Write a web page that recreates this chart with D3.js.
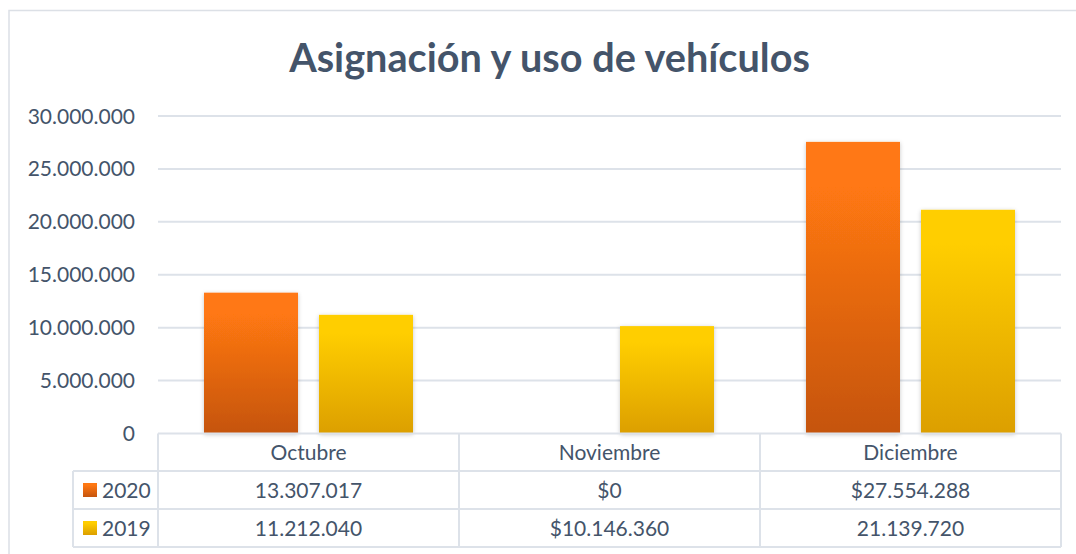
<!DOCTYPE html>
<html>
<head>
<meta charset="utf-8">
<script src="https://cdn.jsdelivr.net/npm/d3@7"></script>
<style>
  html, body { margin: 0; padding: 0; background: #ffffff; }
  svg { display: block; }
  text { font-family: Lato, "Liberation Sans", sans-serif; fill: #44546A; }
</style>
</head>
<body>
<svg id="chart" width="1076" height="554"></svg>
<script>
// ---- data ----
const title = "Asignación y uso de vehículos";
const categories = ["Octubre", "Noviembre", "Diciembre"];
const seriesNames = ["2020", "2019"];
const values2020 = [13307017, 0, 27554288];
const values2019 = [11212040, 10146360, 21139720];
const labels2020 = ["13.307.017", "$0", "$27.554.288"];
const labels2019 = ["11.212.040", "$10.146.360", "21.139.720"];
const yTicks = [0, 5000000, 10000000, 15000000, 20000000, 25000000, 30000000];

const seriesValues = [values2020, values2019];
const seriesLabels = [labels2020, labels2019];

// ---- layout ----
const svg = d3.select("#chart");
const plotLeft = 158, plotRight = 1061, plotTop = 116, plotBottom = 433.5;
const tableLeft = 73;
const rowEdges = [433.5, 471, 509, 547];
const gridColor = "#DDE2E9";
const fs = 21;

const defs = svg.append("defs");
const gradSpecs = [
  { id: "g2020", top: "#FF7812", bottom: "#C5540E" },
  { id: "g2019", top: "#FFCE00", bottom: "#DC9F00" }
];
gradSpecs.forEach(g => {
  const lg = defs.append("linearGradient").attr("id", g.id)
    .attr("x1", 0).attr("y1", 0).attr("x2", 0).attr("y2", 1);
  lg.append("stop").attr("offset", "0%").attr("stop-color", g.top);
  lg.append("stop").attr("offset", "15%").attr("stop-color", g.top);
  lg.append("stop").attr("offset", "100%").attr("stop-color", g.bottom);
});
const f = defs.append("filter").attr("id", "shadow")
  .attr("x", "-20%").attr("y", "-20%").attr("width", "140%").attr("height", "140%");
f.append("feDropShadow").attr("dx", 0).attr("dy", 1).attr("stdDeviation", 2)
  .attr("flood-color", "#000").attr("flood-opacity", 0.22);

// outer border
svg.append("rect").attr("x", 9).attr("y", 10.5).attr("width", 1080).attr("height", 560)
  .attr("fill", "#fff").attr("stroke", "#DCE0E6").attr("stroke-width", 1.5);

// title
const t = svg.append("text").attr("x", 549.5).attr("y", 72)
  .attr("text-anchor", "middle").attr("font-weight", "bold")
  .attr("font-size", 36).style("fill", "#44546A").text(title);
const tw = t.node().getComputedTextLength();
t.attr("font-size", 36 * 521 / tw);

// scales
const x0 = d3.scaleBand().domain(categories).range([plotLeft, plotRight]).padding(0);
const groupW = 209;
const x1 = d3.scaleBand().domain(seriesNames).range([0, groupW]).paddingInner(21 / 115).paddingOuter(0);
const y = d3.scaleLinear().domain([0, 30000000]).range([plotBottom, plotTop]);

const fmt = d3.formatLocale({ decimal: ",", thousands: ".", grouping: [3], currency: ["$", ""] }).format(",d");

// gridlines
svg.append("g").selectAll("line").data(yTicks.filter(d => d > 0)).join("line")
  .attr("x1", plotLeft).attr("x2", plotRight)
  .attr("y1", d => y(d)).attr("y2", d => y(d))
  .attr("stroke", gridColor).attr("stroke-width", 2);

// y axis labels
svg.append("g").selectAll("text").data(yTicks).join("text")
  .attr("x", 135).attr("y", d => y(d)).attr("dy", "0.36em")
  .attr("text-anchor", "end").attr("font-size", fs)
  .text(d => fmt(d));

// bars
const groups = svg.append("g").selectAll("g").data(categories).join("g")
  .attr("transform", d => `translate(${x0(d) + (x0.bandwidth() - groupW) / 2},0)`);
groups.selectAll("rect").data((c, i) => seriesNames.map((s, j) => ({ s, j, v: seriesValues[j][i] })))
  .join("rect")
  .filter(d => d.v > 0)
  .attr("x", d => x1(d.s)).attr("width", x1.bandwidth())
  .attr("y", d => y(d.v)).attr("height", d => y(0) - y(d.v))
  .attr("fill", d => `url(#${gradSpecs[d.j].id})`)
  .attr("filter", "url(#shadow)");

// data table
const tg = svg.append("g");
const lineAttrs = sel => sel.attr("stroke", gridColor).attr("stroke-width", 2).attr("fill", "none");
tg.append("line").attr("x1", plotLeft).attr("x2", plotRight).attr("y1", rowEdges[0]).attr("y2", rowEdges[0]).call(lineAttrs);
[1, 2, 3].forEach(i => {
  tg.append("line").attr("x1", tableLeft).attr("x2", plotRight).attr("y1", rowEdges[i]).attr("y2", rowEdges[i]).call(lineAttrs);
});
tg.append("line").attr("x1", tableLeft).attr("x2", tableLeft).attr("y1", rowEdges[1]).attr("y2", rowEdges[3]).call(lineAttrs);
const vx = categories.map(c => x0(c)).concat([plotRight]);
vx.forEach(x => {
  tg.append("line").attr("x1", x).attr("x2", x).attr("y1", rowEdges[0]).attr("y2", rowEdges[3]).call(lineAttrs);
});
tg.selectAll("text.cat").data(categories).join("text").attr("class", "cat")
  .attr("x", d => x0(d) + x0.bandwidth() / 2)
  .attr("y", (rowEdges[0] + rowEdges[1]) / 2).attr("dy", "0.36em")
  .attr("text-anchor", "middle").attr("font-size", fs).text(d => d);
seriesNames.forEach((s, j) => {
  const cy = (rowEdges[j + 1] + rowEdges[j + 2]) / 2;
  tg.append("rect").attr("x", 83).attr("y", cy - 7).attr("width", 14).attr("height", 14)
    .attr("fill", `url(#${gradSpecs[j].id})`);
  tg.append("text").attr("x", 102).attr("y", cy).attr("dy", "0.36em")
    .attr("font-size", fs).text(s);
  tg.selectAll(null).data(categories).join("text")
    .attr("x", d => x0(d) + x0.bandwidth() / 2).attr("y", cy).attr("dy", "0.36em")
    .attr("text-anchor", "middle").attr("font-size", fs)
    .text((d, i) => seriesLabels[j][i]);
});
</script>
</body>
</html>
